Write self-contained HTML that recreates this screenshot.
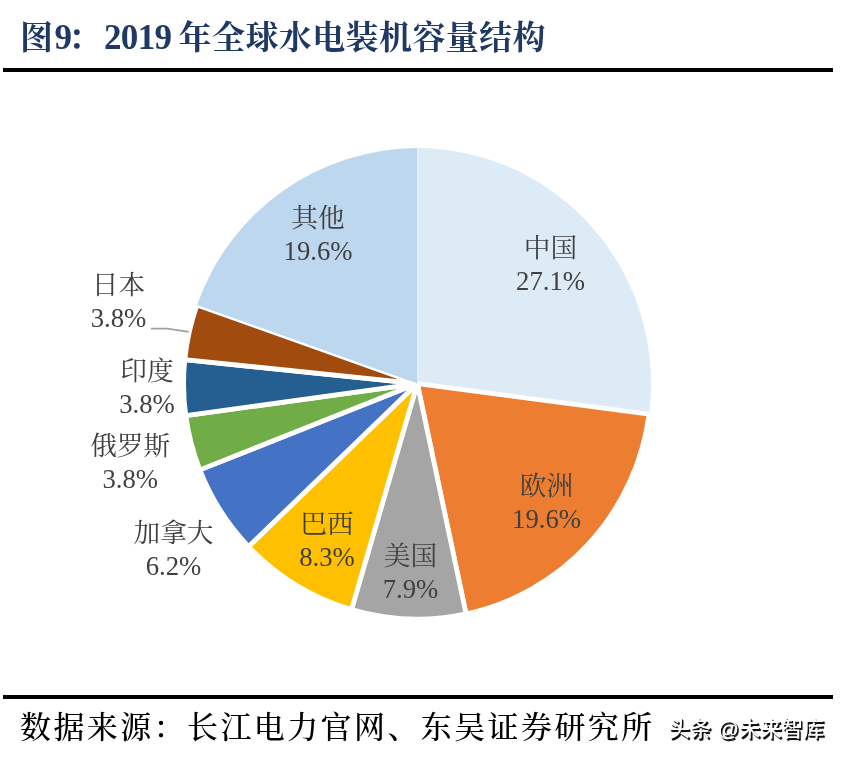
<!DOCTYPE html>
<html lang="zh-CN">
<head>
<meta charset="utf-8">
<title>图9：2019 年全球水电装机容量结构</title>
<style>
html,body{margin:0;padding:0;background:#fff;}
body{width:844px;height:760px;position:relative;overflow:hidden;font-family:"Liberation Serif","Noto Serif CJK SC",serif;}
.title{position:absolute;left:0;top:18px;height:40px;width:844px;font-weight:700;color:#1F3864;white-space:nowrap;}
.title span{position:absolute;top:0;line-height:40px;}
.title .c{font-size:33px;letter-spacing:0.4px;}
.title .n{font-size:35px;letter-spacing:-0.6px;top:-0.5px;}
.rule{position:absolute;left:3px;width:830px;height:4px;background:#000;}
.r1{top:68px;}
.r2{top:695px;}
.source{position:absolute;left:20px;top:707.5px;font-size:31px;line-height:40px;color:#000;white-space:nowrap;letter-spacing:2.4px;font-weight:500;}
.wm{position:absolute;left:669px;top:713.7px;letter-spacing:0.3px;font-family:"Liberation Sans","Noto Sans CJK SC",sans-serif;font-size:21px;line-height:30px;color:#fff;white-space:nowrap;font-weight:500;text-shadow:1px 1px 0 #111,1.6px 1.6px 0.8px #000;}
svg{position:absolute;left:0;top:0;}
svg text{font-family:"Liberation Serif","Noto Serif CJK SC",serif;font-size:26.7px;fill:#404040;text-anchor:middle;}
</style>
</head>
<body>
<div class="title"><span class="c" style="left:20px">图</span><span class="n" style="left:54.5px">9</span><span class="c" style="left:68px">：</span><span class="n" style="left:103.9px">2019 </span><span class="c" style="left:178.6px">年全球水电装机容量结构</span></div>
<div class="rule r1"></div>
<svg width="844" height="760" viewBox="0 0 844 760">
<g stroke="#fff" stroke-width="4.8" stroke-linejoin="round">
<path d="M417.3 383.6L417.30 148.10A233.7 235.5 0 0 1 649.02 414.19Z" fill="#DDEBF7" stroke="none"/>
<path d="M417.3 383.6L649.02 414.19A233.7 235.5 0 0 1 466.08 613.91Z" fill="#ED7D31"/>
<path d="M417.3 383.6L466.08 613.91A233.7 235.5 0 0 1 351.46 609.56Z" fill="#A5A5A5"/>
<path d="M417.3 383.6L351.46 609.56A233.7 235.5 0 0 1 248.59 546.56Z" fill="#FFC000"/>
<path d="M417.3 383.6L248.59 546.56A233.7 235.5 0 0 1 199.84 469.87Z" fill="#4472C4"/>
<path d="M417.3 383.6L199.84 469.87A233.7 235.5 0 0 1 185.77 415.65Z" fill="#70AD47"/>
<path d="M417.3 383.6L185.77 415.65A233.7 235.5 0 0 1 184.81 359.62Z" fill="#255E91"/>
<path d="M417.3 383.6L184.81 359.62A233.7 235.5 0 0 1 197.02 304.95Z" fill="#A24B0E"/>
<path d="M417.3 383.6L197.02 304.95A233.7 235.5 0 0 1 417.30 148.10Z" fill="#BDD7EE" stroke="none"/>
</g>
<path d="M418.2 148.6V380" stroke="#E6F1FA" stroke-width="1.6" fill="none"/>
<path d="M151 328.6 L167.5 328.6 L188.7 331.8" stroke="#A0A0A0" stroke-width="1.8" fill="none"/>
<g>
<text x="550.5" y="256.6">中国</text><text x="550.5" y="289.6">27.1%</text>
<text x="546.5" y="494.5">欧洲</text><text x="546.5" y="527.5">19.6%</text>
<text x="410.5" y="564.7">美国</text><text x="410.5" y="597.7">7.9%</text>
<text x="327" y="533.1">巴西</text><text x="327" y="566.1">8.3%</text>
<text x="173.5" y="542.2">加拿大</text><text x="173.5" y="575.2">6.2%</text>
<text x="130.2" y="455.2">俄罗斯</text><text x="130.2" y="488.2">3.8%</text>
<text x="147" y="380.0">印度</text><text x="147" y="413">3.8%</text>
<text x="118.5" y="293.5">日本</text><text x="118.5" y="326.5">3.8%</text>
<text x="318" y="226.6">其他</text><text x="318" y="259.6">19.6%</text>
</g>
</svg>
<div class="rule r2"></div>
<div class="source">数据来源：长江电力官网、东吴证券研究所</div>
<div class="wm">头条 @未来智库</div>
</body>
</html>
